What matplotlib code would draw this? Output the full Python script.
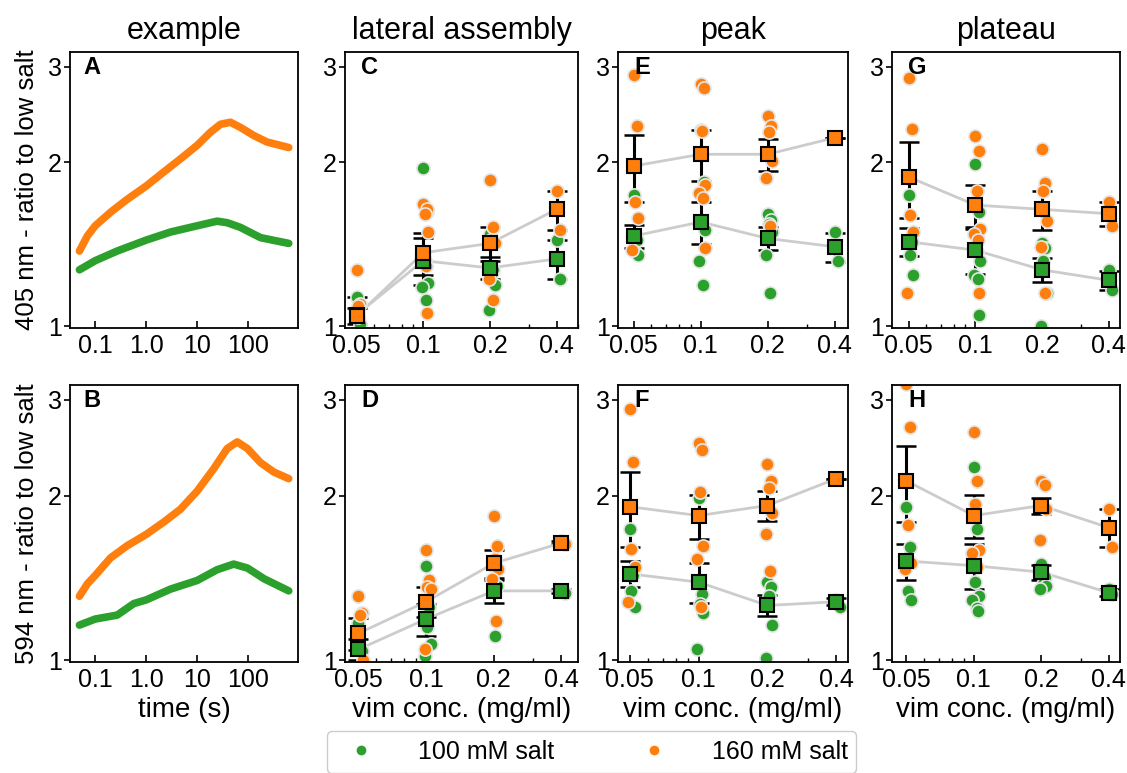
import numpy as np
import matplotlib.pyplot as plt
from matplotlib.ticker import FixedLocator, NullLocator, NullFormatter, LogLocator
from matplotlib.lines import Line2D

plt.rcParams['font.family'] = ['Liberation Sans', 'DejaVu Sans']

green = '#2ca02c'
orange = '#ff7f0e'

conc = [0.05, 0.1, 0.2, 0.4]
conc_labels = ['0.05', '0.1', '0.2', '0.4']

# example traces, panel A (405 nm)
tA_160 = [0.049, 0.07, 0.1, 0.2, 0.42, 1.0, 2.2, 4.7, 10, 18, 28.6, 45, 70, 130, 235, 625]
rA_160 = [1.375, 1.465, 1.53, 1.62, 1.71, 1.81, 1.92, 2.03, 2.15, 2.27, 2.35, 2.37, 2.32, 2.24, 2.18, 2.13]
tA_100 = [0.049, 0.1, 0.27, 1.0, 3.0, 10, 24.6, 38.7, 70, 175, 625]
rA_100 = [1.27, 1.32, 1.375, 1.44, 1.49, 1.53, 1.56, 1.55, 1.52, 1.455, 1.42]
# example traces, panel B (594 nm)
tB_160 = [0.049, 0.07, 0.1, 0.2, 0.42, 1.0, 2.2, 4.7, 10, 21, 38.7, 61, 97, 175, 320, 625]
rB_160 = [1.31, 1.38, 1.43, 1.54, 1.62, 1.70, 1.79, 1.89, 2.04, 2.24, 2.44, 2.51, 2.44, 2.30, 2.21, 2.15]
tB_100 = [0.049, 0.1, 0.27, 0.57, 1.0, 3.0, 10, 24.6, 52, 97, 205, 625]
rB_100 = [1.16, 1.19, 1.21, 1.27, 1.29, 1.35, 1.40, 1.465, 1.50, 1.475, 1.41, 1.34]

# C: lateral assembly, 405 nm
c_100 = [[1.13, 1.01, 1.04], [1.95, 1.62, 1.32, 1.20, 1.18, 1.12], [1.48, 1.27, 1.25, 1.19, 1.07], [1.44, 1.22]]
c_160 = [[1.27, 1.10, 1.09], [1.68, 1.64, 1.61, 1.49, 1.36, 1.29, 1.06], [1.86, 1.52, 1.44, 1.42, 1.22, 1.12], [1.77, 1.50]]
c_100_mean = [1.05, 1.32, 1.28, 1.33]
c_100_err = [0.08, 0.13, 0.06, 0.11]
c_160_mean = [1.045, 1.365, 1.42, 1.64]
c_160_err = [0.035, 0.12, 0.10, 0.135]

# E: peak, 405 nm
e_100 = [[1.74, 1.44, 1.37, 1.35], [2.29, 1.84, 1.55, 1.50, 1.32, 1.19], [1.61, 1.57, 1.54, 1.49, 1.35, 1.15], [1.49, 1.32]]
e_160 = [[2.90, 2.33, 1.69, 1.58, 1.38], [2.79, 2.74, 2.28, 1.82, 1.76, 1.72, 1.39], [2.43, 2.33, 2.27, 2.01, 1.87, 1.53], [2.22]]
e_100_mean = [1.465, 1.555, 1.45, 1.40]
e_100_err = [0.07, 0.14, 0.07, 0.085]
e_160_mean = [1.97, 2.07, 2.07, 2.22]
e_160_err = [0.28, 0.22, 0.14, 0.0]

# G: plateau, 405 nm
g_100 = [[1.74, 1.43, 1.35, 1.245], [1.99, 1.62, 1.37, 1.32, 1.245, 1.22, 1.05], [1.42, 1.39, 1.32, 1.15, 1.0], [1.27, 1.165]]
g_160 = [[2.86, 2.30, 1.60, 1.49, 1.15], [2.24, 2.10, 1.77, 1.51, 1.48, 1.44, 1.15], [2.12, 1.83, 1.77, 1.56, 1.40, 1.15], [1.69, 1.53]]
g_100_mean = [1.43, 1.38, 1.27, 1.215]
g_100_err = [0.085, 0.13, 0.065, 0.05]
g_160_mean = [1.88, 1.67, 1.64, 1.61]
g_160_err = [0.30, 0.15, 0.135, 0.08]

# D: lateral assembly, 594 nm
d_100 = [[1.17, 1.04], [1.49, 1.25, 1.15, 1.07, 1.02], [1.49, 1.37, 1.11], [1.34, 1.33]]
d_160 = [[1.31, 1.22, 1.21, 1.0], [1.59, 1.40, 1.36, 1.35, 1.05], [1.84, 1.62, 1.53, 1.47, 1.41, 1.18], [1.65, 1.63]]
d_100_mean = [1.047, 1.19, 1.34, 1.34]
d_100_err = [0.045, 0.08, 0.065, 0.01]
d_160_mean = [1.12, 1.28, 1.505, 1.64]
d_160_err = [0.075, 0.08, 0.09, 0.01]

# F: peak, 594 nm
f_100 = [[1.74, 1.43, 1.34, 1.25], [1.98, 1.32, 1.27, 1.22, 1.05], [1.39, 1.36, 1.31, 1.16, 1.01], [1.29, 1.25]]
f_160 = [[2.88, 2.31, 1.60, 1.48, 1.28], [2.50, 2.43, 2.03, 1.62, 1.53, 1.25], [2.29, 2.13, 2.07, 1.86, 1.70, 1.46], [2.15]]
f_100_mean = [1.44, 1.39, 1.26, 1.28]
f_100_err = [0.08, 0.115, 0.055, 0.02]
f_160_mean = [1.91, 1.84, 1.92, 2.15]
f_160_err = [0.30, 0.17, 0.12, 0.0]

# H: plateau, 594 nm
h_100 = [[1.91, 1.61, 1.34, 1.29], [2.26, 1.74, 1.39, 1.31, 1.29, 1.245, 1.23], [1.50, 1.42, 1.38, 1.37, 1.35], [1.35, 1.32]]
h_160 = [[3.21, 2.67, 1.77, 1.51, 1.47], [2.62, 2.13, 1.93, 1.59, 1.57, 1.48], [2.13, 2.09, 1.91, 1.89, 1.66], [1.89, 1.61]]
h_100_mean = [1.52, 1.49, 1.45, 1.33]
h_100_err = [0.115, 0.14, 0.045, 0.02]
h_160_mean = [2.13, 1.84, 1.92, 1.75]
h_160_err = [0.34, 0.165, 0.065, 0.14]

jit = [0.0, 0.05, 0.02, 0.07, -0.02, 0.04, 0.06]

fig = plt.figure(figsize=(11.27, 7.73), dpi=100)
lefts = [70, 345, 618, 892]
rights = [298, 578, 848, 1120]
tops = [52, 385]
bots = [328, 662]
W, H = 1127., 773.
axes = [[fig.add_axes([lefts[c] / W, 1 - bots[r] / H, (rights[c] - lefts[c]) / W, (bots[r] - tops[r]) / H])
         for c in range(4)] for r in range(2)]

def style_y(ax):
    ax.set_yscale('log')
    ax.set_ylim(0.993, 3.19)
    ax.yaxis.set_major_locator(FixedLocator([1, 2, 3]))
    ax.yaxis.set_minor_locator(NullLocator())
    ax.set_yticklabels(['1', '2', '3'])
    ax.tick_params(axis='y', direction='out', length=4, width=1.2, labelsize=18, pad=2)
    ax.tick_params(axis='x', direction='in', length=5, width=1.2, labelsize=18, pad=4)
    ax.tick_params(axis='x', which='minor', direction='in', length=3, width=1.0)
    for s in ax.spines.values():
        s.set_linewidth(1.3)

def example(ax, t1, r1, t2, r2, letter):
    ax.plot(t2, r2, color=green, lw=5.5, solid_capstyle='round')
    ax.plot(t1, r1, color=orange, lw=5.5, solid_capstyle='round')
    ax.set_xscale('log')
    ax.set_xlim(0.032, 950)
    ax.xaxis.set_major_locator(FixedLocator([0.1, 1, 10, 100]))
    ax.xaxis.set_minor_locator(NullLocator())
    ax.set_xticklabels(['0.1', '1.0', '10', '100'])
    style_y(ax)
    ax.text(0.06, 0.945, letter, transform=ax.transAxes, fontsize=17, fontweight='bold', va='center')

def panel(ax, p100, p160, m100, e100, m160, e160, letter, xlim):
    for means, errs in ((m100, e100), (m160, e160)):
        ax.errorbar(conc, means, yerr=errs, fmt='none', ecolor='k', elinewidth=2.2,
                    capsize=7, capthick=1.8, zorder=1)
        ax.plot(conc, means, '-', color='#cccccc', lw=2, zorder=1.5)
    for pts, col, z in ((p100, green, 2), (p160, orange, 2.1)):
        for x, vals in zip(conc, pts):
            xs = [x * 2 ** jit[i % len(jit)] for i in range(len(vals))]
            ax.scatter(xs, vals, s=90, color=col, edgecolors='#e6e6e6', linewidths=1.2, zorder=z)
    for means, col in ((m100, green), (m160, orange)):
        ax.plot(conc, means, 's', mfc=col, mec='k', mew=1.5, ms=10, zorder=4)
    ax.set_xscale('log')
    ax.set_xlim(*xlim)
    ax.xaxis.set_major_locator(FixedLocator(conc))
    ax.xaxis.set_minor_locator(LogLocator(subs=np.arange(2, 10)))
    ax.xaxis.set_minor_formatter(NullFormatter())
    ax.set_xticklabels(conc_labels)
    style_y(ax)
    ax.text(0.07, 0.945, letter, transform=ax.transAxes, fontsize=17, fontweight='bold', va='center')

example(axes[0][0], tA_160, rA_160, tA_100, rA_100, 'A')
example(axes[1][0], tB_160, rB_160, tB_100, rB_100, 'B')
panel(axes[0][1], c_100, c_160, c_100_mean, c_100_err, c_160_mean, c_160_err, 'C', (0.0443, 0.5))
panel(axes[0][2], e_100, e_160, e_100_mean, e_100_err, e_160_mean, e_160_err, 'E', (0.0425, 0.459))
panel(axes[0][3], g_100, g_160, g_100_mean, g_100_err, g_160_mean, g_160_err, 'G', (0.042, 0.45))
panel(axes[1][1], d_100, d_160, d_100_mean, d_100_err, d_160_mean, d_160_err, 'D', (0.0436, 0.474))
panel(axes[1][2], f_100, f_160, f_100_mean, f_100_err, f_160_mean, f_160_err, 'F', (0.0444, 0.45))
panel(axes[1][3], h_100, h_160, h_100_mean, h_100_err, h_160_mean, h_160_err, 'H', (0.0431, 0.45))

titles = ['example', 'lateral assembly', 'peak', 'plateau']
for c in range(4):
    axes[0][c].set_title(titles[c], fontsize=22, pad=9)
axes[0][0].set_ylabel('405 nm - ratio to low salt', fontsize=18.5, labelpad=6)
axes[1][0].set_ylabel('594 nm - ratio to low salt', fontsize=18.5, labelpad=6)
axes[1][0].set_xlabel('time (s)', fontsize=20, labelpad=4)
for c in range(1, 4):
    axes[1][c].set_xlabel('vim conc. (mg/ml)', fontsize=20, labelpad=4)

handles = [Line2D([], [], marker='o', ls='', color=green, ms=6),
           Line2D([], [], marker='o', ls='', color=orange, ms=6)]
fig.legend(handles, ['100 mM salt', '160 mM salt'], loc='upper center',
           bbox_to_anchor=(0.525, 0.054), ncol=2, fontsize=18, handletextpad=1.3,
           columnspacing=3.0, frameon=True, edgecolor='#cccccc', framealpha=1,
           borderpad=0.35, borderaxespad=0)

fig.savefig('out.png', dpi=100)
